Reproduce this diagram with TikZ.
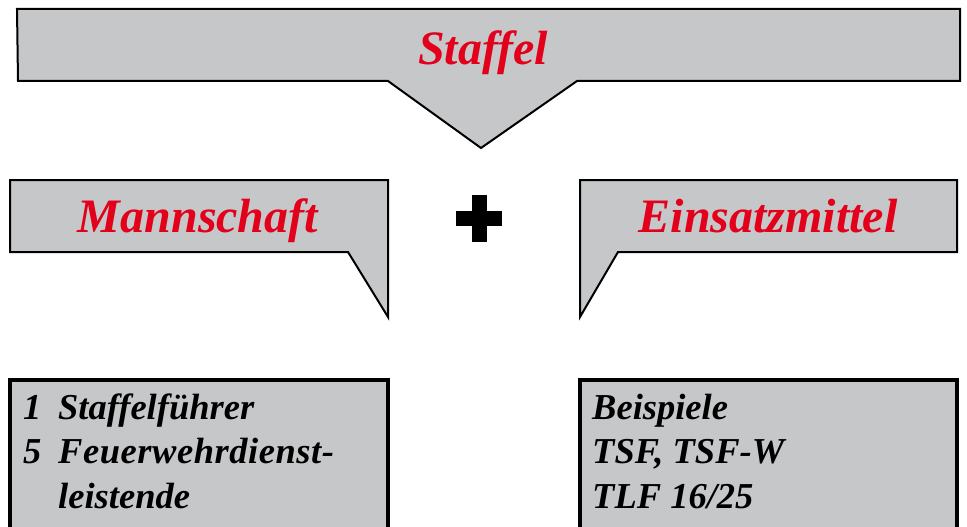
\documentclass[tikz,border=0pt]{standalone}
\usepackage{fontspec}
\setmainfont{Liberation Serif}
\definecolor{panelgray}{HTML}{C6C7C9}
\definecolor{titlered}{HTML}{E2001A}
\tikzset{
  callout/.style={fill=panelgray, draw=black, line width=2pt, line join=miter},
  infobox/.style={fill=panelgray, draw=black, line width=4pt},
  title/.style={text=titlered, anchor=base, inner sep=0pt,
    font=\fontsize{48}{50}\selectfont\bfseries\itshape},
  listtext/.style={anchor=base west, inner sep=0pt,
    font=\fontsize{36.5}{44}\selectfont\bfseries\itshape}
}
\begin{document}
\begin{tikzpicture}[x=1pt, y=-1pt]
  \useasboundingbox (0,0) rectangle (967,527);
  \clip (0,0) rectangle (967,527);

  % top banner pointing down
  \draw[callout] (17,9) -- (960,9) -- (960,81) -- (577,81) -- (481,148)
    -- (388,81) -- (18,81) -- cycle;
  \node[title] (staffel) at (483,65) {Staffel};

  % left callout
  \draw[callout] (10,180) -- (388,180) -- (388,317) -- (348,252)
    -- (10,252) -- cycle;
  \node[title] (mannschaft) at (198,232) {Mannschaft};

  % right callout
  \draw[callout] (580,180) -- (957,180) -- (957,252) -- (618,252)
    -- (580,317) -- cycle;
  \node[title] (einsatz) at (768,232) {Einsatzmittel};

  % plus sign
  \fill (472,195) rectangle (487,242);
  \fill (456,211) rectangle (502,226);

  % lower boxes
  \draw[infobox] (10,380) rectangle (388,560);
  \draw[infobox] (580,380) rectangle (957,560);

  % crew list
  \node[listtext] (n1) at (23,419) {1};
  \node[listtext] (crew1) at (58,419) {Staffelführer};
  \node[listtext] (n5) at (23,463) {5};
  \node[listtext] (crew2) at (58,463)
    {\addfontfeature{LetterSpace=1.5}Feuerwehrdienst-};
  \node[listtext] (crew3) at (58,508) {leistende};

  % vehicle list
  \node[listtext] (veh1) at (592,419) {Beispiele};
  \node[listtext] (veh2) at (592,463) {TSF, TSF-W};
  \node[listtext] (veh3) at (592,508) {TLF 16/25};
\end{tikzpicture}
\end{document}
